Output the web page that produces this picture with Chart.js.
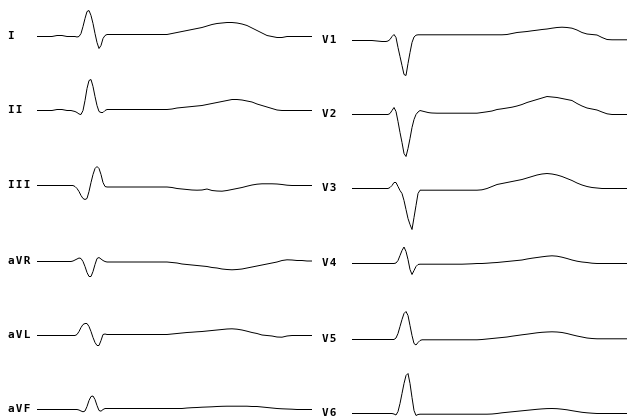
<!DOCTYPE html>
<html>
<head>
<meta charset="utf-8">
<script src="https://cdn.jsdelivr.net/npm/chart.js@4/dist/chart.umd.min.js"></script>
<style>
  html, body { margin: 0; padding: 0; background: #fff; }
  body { width: 628px; height: 416px; position: relative; overflow: hidden; }
  canvas.lead { position: absolute; }
  .lbl { position: absolute; font-family: 'DejaVu Sans Mono', monospace; font-weight: bold; font-size: 11px; line-height: 12px; letter-spacing: 1.2px; color: #000; white-space: nowrap; will-change: transform; }
</style>
</head>
<body>
<script>
// Sample times (ms) shared by all leads
const timeMs = [0,20,40,60,80,100,
  120,128,136,144,152,160,168,176,184,192,200,208,216,224,232,240,248,256,264,272,280,288,296,304,312,320,
  340,360,380,400,420,440,460,480,500,520,540,560,580,600,620,640,660,680,700,720,740,760,780,800,820,840,860,880,900,920,940,960,980,1000,1020,1040,1060,1080,1100];

// Lead names
const leftLeads = ["I", "II", "III", "aVR", "aVL", "aVF"];
const rightLeads = ["V1", "V2", "V3", "V4", "V5", "V6"];

// Amplitudes (mV)
const leadI = [0,0,0,0,0.05,0.05,
  0,0,0,0,0,-0.025,0,0.15,0.5,0.9,1.25,1.3,1.05,0.65,0.15,-0.3,-0.6,-0.45,-0.1,0.05,0.1,0.1,0.1,0.1,0.1,0.1,
  0.1,0.1,0.1,0.1,0.1,0.1,0.1,0.1,0.1,0.1,0.15,0.2,0.25,0.3,0.35,0.4,0.45,0.525,0.6,0.65,0.675,0.7,0.7,0.675,0.625,0.55,0.425,0.3,0.175,0.05,0,-0.05,-0.05,0,0,0,0,0,0];
const leadII = [0,0,0,0,0.05,0.05,
  0,0,0,-0.025,-0.05,-0.1,-0.175,-0.2,0,0.5,1.1,1.5,1.55,1.2,0.7,0.25,-0.05,-0.1,-0.1,0,0.05,0.05,0.05,0.05,0.05,0.05,
  0.05,0.05,0.05,0.05,0.05,0.05,0.05,0.05,0.05,0.05,0.075,0.125,0.15,0.175,0.2,0.225,0.25,0.3,0.35,0.4,0.45,0.5,0.55,0.55,0.525,0.475,0.425,0.325,0.25,0.175,0.1,0.025,0,0,0,0,0,0,0];
const leadIII = [0,0,0,0,0,0,
  0,0,0,0,-0.05,-0.15,-0.3,-0.5,-0.65,-0.7,-0.65,-0.3,0.15,0.55,0.85,0.95,0.85,0.55,0.15,-0.05,-0.075,-0.075,-0.075,-0.075,-0.075,-0.075,
  -0.075,-0.075,-0.075,-0.075,-0.075,-0.075,-0.075,-0.075,-0.075,-0.075,-0.1,-0.15,-0.175,-0.2,-0.225,-0.235,-0.225,-0.175,-0.25,-0.275,-0.285,-0.25,-0.2,-0.15,-0.1,-0.035,0.025,0.065,0.085,0.085,0.085,0.075,0.05,0.015,0,0,0,0,0];
const leadAVR = [0,0,0,0,0,0,
  0,0,0,0.025,0.075,0.125,0.175,0.15,0,-0.25,-0.55,-0.75,-0.75,-0.5,-0.15,0.15,0.2,0.125,0.05,0,-0.025,-0.025,-0.025,-0.025,-0.025,-0.025,
  -0.025,-0.025,-0.025,-0.025,-0.025,-0.025,-0.025,-0.025,-0.025,-0.025,-0.05,-0.075,-0.125,-0.15,-0.175,-0.2,-0.225,-0.25,-0.3,-0.325,-0.375,-0.4,-0.415,-0.4,-0.375,-0.325,-0.275,-0.225,-0.175,-0.125,-0.075,-0.025,0.05,0.085,0.075,0.05,0.05,0.025,0.025];
const leadAVL = [0,0,0,0,0,0,
  0,0,0,0,0,0.05,0.2,0.4,0.55,0.6,0.6,0.45,0.2,-0.1,-0.35,-0.5,-0.5,-0.25,0.05,0.075,0.05,0.05,0.05,0.05,0.05,0.05,
  0.05,0.05,0.05,0.05,0.05,0.05,0.05,0.05,0.05,0.05,0.075,0.1,0.125,0.15,0.165,0.185,0.2,0.225,0.25,0.275,0.3,0.325,0.335,0.315,0.275,0.215,0.15,0.1,0.025,0,-0.025,-0.075,-0.085,-0.025,0,0,0,0,0];
const leadAVF = [0,0,0,0,0,0,
  0,0,0,0,0,0,-0.025,-0.075,-0.115,-0.075,0.15,0.45,0.65,0.675,0.5,0.2,-0.05,-0.085,0,0.05,0.05,0.05,0.05,0.05,0.05,0.05,
  0.05,0.05,0.05,0.05,0.05,0.05,0.05,0.05,0.05,0.05,0.05,0.05,0.05,0.075,0.09,0.1,0.115,0.125,0.135,0.15,0.16,0.165,0.165,0.165,0.165,0.165,0.15,0.15,0.125,0.1,0.075,0.05,0.035,0.025,0.015,0,0,0,0];
const leadV1 = [0,0,0,0,0,-0.025,
  -0.05,-0.05,-0.05,-0.025,0.05,0.2,0.3,0.15,-0.35,-0.8,-1.25,-1.7,-1.75,-1.15,-0.6,-0.1,0.175,0.265,0.285,0.285,0.285,0.285,0.285,0.285,0.285,0.285,
  0.285,0.285,0.285,0.285,0.285,0.285,0.285,0.285,0.285,0.285,0.285,0.285,0.285,0.285,0.3,0.35,0.4,0.425,0.45,0.485,0.515,0.55,0.575,0.615,0.65,0.665,0.65,0.615,0.525,0.4,0.325,0.3,0.275,0.15,0.05,0.035,0.035,0.035,0.035];
const leadV2 = [0,0,0,0,0,0,
  0,0,0,0,0.05,0.2,0.35,0.15,-0.35,-0.9,-1.4,-1.95,-2.1,-1.7,-1.2,-0.65,-0.25,0,0.125,0.2,0.175,0.15,0.125,0.1,0.085,0.075,
  0.065,0.065,0.065,0.065,0.065,0.065,0.065,0.065,0.065,0.1,0.135,0.175,0.25,0.285,0.325,0.365,0.425,0.5,0.6,0.675,0.75,0.825,0.9,0.875,0.85,0.8,0.75,0.7,0.55,0.425,0.325,0.275,0.225,0.125,0.035,0,0,0,0];
const leadV3 = [0,0,0,0,0,0,
  0,0,0,0,0.05,0.15,0.3,0.3,0.1,-0.1,-0.25,-0.6,-1.05,-1.5,-1.8,-2.05,-1.45,-0.85,-0.25,-0.085,-0.085,-0.085,-0.085,-0.085,-0.085,-0.085,
  -0.085,-0.085,-0.085,-0.085,-0.085,-0.085,-0.085,-0.085,-0.085,-0.065,0,0.1,0.2,0.25,0.3,0.35,0.4,0.45,0.525,0.6,0.675,0.725,0.75,0.725,0.675,0.6,0.5,0.4,0.275,0.175,0.1,0.05,0.025,0,0,0,0,0,0];
const leadV4 = [0,0,0,0,0,0,
  0,0,0,0,0,0,0,0.025,0.15,0.4,0.65,0.825,0.6,0.2,-0.3,-0.55,-0.35,-0.15,-0.05,-0.035,-0.035,-0.035,-0.035,-0.035,-0.035,-0.035,
  -0.035,-0.035,-0.035,-0.035,-0.035,-0.035,-0.025,-0.015,0,0,0.015,0.035,0.05,0.075,0.1,0.125,0.15,0.175,0.225,0.265,0.3,0.335,0.365,0.385,0.365,0.315,0.25,0.175,0.115,0.075,0.05,0.015,0,0,0,0,0,0,0];
const leadV5 = [0,0,0,0,0,0,
  0,0,0,0,0,0,0,0.075,0.3,0.65,1,1.3,1.4,1.2,0.7,0.2,-0.2,-0.275,-0.15,-0.05,-0.015,-0.015,-0.015,-0.015,-0.015,-0.015,
  -0.015,-0.015,-0.015,-0.015,-0.015,-0.015,-0.015,-0.015,-0.015,0,0.025,0.05,0.075,0.1,0.125,0.165,0.2,0.235,0.265,0.3,0.335,0.36,0.375,0.385,0.375,0.35,0.3,0.235,0.175,0.125,0.075,0.05,0.035,0.035,0.035,0.035,0.035,0.035,0.035];
const leadV6 = [0,0,0,0,0,0,
  0,0,0,0,0,0,-0.025,-0.075,0.1,0.5,1,1.5,1.9,2,1.5,0.8,0.15,-0.1,-0.05,-0.035,-0.035,-0.035,-0.035,-0.035,-0.035,-0.035,
  -0.035,-0.035,-0.035,-0.035,-0.035,-0.035,-0.035,-0.035,-0.035,-0.035,-0.035,-0.025,0,0.035,0.06,0.085,0.11,0.135,0.16,0.185,0.21,0.23,0.245,0.25,0.24,0.215,0.185,0.14,0.1,0.06,0.035,0.015,0,0,0,0,0,0,0];

const leftValues = [leadI, leadII, leadIII, leadAVR, leadAVL, leadAVF];
const rightValues = [leadV1, leadV2, leadV3, leadV4, leadV5, leadV6];

// Layout (pixels)
const layout = {
  left:  { labelX: 8,   traceX: 37,  baselines: [36, 110, 185, 261, 335, 409] },
  right: { labelX: 322, traceX: 352, baselines: [40, 114, 188, 263, 339, 413] },
  traceW: 275, canvasH: 120
};

function drawLead(name, values, col, row) {
  const cfg = layout[col];
  const base = cfg.baselines[row];
  const lbl = document.createElement('div');
  lbl.className = 'lbl';
  lbl.textContent = name;
  lbl.style.left = cfg.labelX + 'px';
  lbl.style.top = (base - 6) + 'px';
  document.body.appendChild(lbl);

  const cv = document.createElement('canvas');
  cv.className = 'lead';
  cv.width = layout.traceW;
  cv.height = layout.canvasH;
  cv.style.width = layout.traceW + 'px';
  cv.style.height = layout.canvasH + 'px';
  cv.style.left = cfg.traceX + 'px';
  cv.style.top = (base - layout.canvasH / 2) + 'px';
  document.body.appendChild(cv);

  new Chart(cv, {
    type: 'line',
    data: {
      datasets: [{
        data: timeMs.map((t, i) => ({ x: t, y: values[i] })),
        borderColor: '#000',
        borderWidth: 1,
        pointRadius: 0,
        tension: 0,
        fill: false,
        clip: false
      }]
    },
    options: {
      responsive: false,
      animation: false,
      devicePixelRatio: 1,
      events: [],
      layout: { padding: 0 },
      plugins: { legend: { display: false }, tooltip: { enabled: false } },
      scales: {
        x: { type: 'linear', min: 0, max: 1100, display: false },
        y: { min: -2.975, max: 3.025, display: false }
      }
    }
  });
}

leftLeads.forEach((n, i) => drawLead(n, leftValues[i], 'left', i));
rightLeads.forEach((n, i) => drawLead(n, rightValues[i], 'right', i));
</script>
</body>
</html>
